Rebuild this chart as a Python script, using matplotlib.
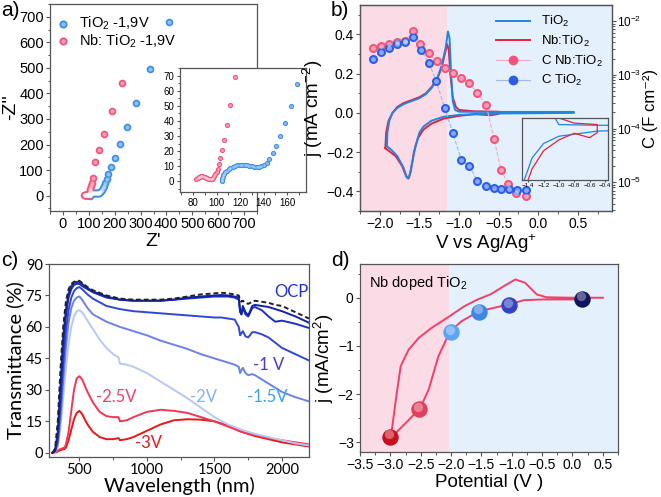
import numpy as np
import matplotlib
matplotlib.use("Agg")
import matplotlib.pyplot as plt
from matplotlib.ticker import MultipleLocator, LogLocator, NullFormatter

plt.rcParams['font.family'] = ['Liberation Sans', 'DejaVu Sans']
plt.rcParams['mathtext.fontset'] = 'custom'
plt.rcParams['mathtext.rm'] = 'Liberation Sans'
plt.rcParams['mathtext.it'] = 'Liberation Sans:italic'

# ---------------- data: panel a (Nyquist) ----------------
tio2_zre = [104.5, 104.6, 104.9, 105.3, 105.9, 106.7, 107.6, 108.8, 110.2, 111.8, 113.6, 115.5,
            117.5, 119.6, 121.7, 123.8, 125.9, 128, 130, 132, 134, 136, 138, 140, 142.5, 144.8,
            147.6, 150.4, 153.8, 158, 163, 168.5, 175, 187, 200, 221, 248, 282, 337, 410]
tio2_zim = [0, 1, 2, 3, 4, 5, 6, 7, 8, 9, 9.8, 10.4, 10.8, 11, 11.1, 11, 10.7, 10.3, 9.9, 9.6,
            9.5, 9.6, 10.2, 10.7, 12.4, 15.1, 18.9, 23.3, 29.8, 38.8, 50, 64.7, 84, 113, 149,
            201, 268, 363, 494, 681]
nb_zre = [83, 84, 85, 86, 87, 88, 89, 90, 91, 92, 93, 94, 95, 96, 97, 98, 99, 100, 101, 102,
          103, 104.5, 106.4, 108.7, 111.5, 115.8, 125, 138, 159, 190, 228]
nb_zim = [1.5, 2.2, 2.8, 3.2, 3.4, 3.4, 3.2, 2.9, 2.5, 2.1, 1.8, 1.6, 1.5, 1.7, 2.2, 3.3, 4.8,
          6.3, 8.4, 11.5, 15.8, 20.7, 27.3, 37.3, 50.7, 68.9, 130, 178, 243, 331, 441]
legend_a = ['TiO$_2$ -1,9V', 'Nb: TiO$_2$ -1,9V']

# ---------------- data: panel b (CV + capacitance) ----------------
cv_tio2_v = [-1.91, -1.905, -1.88, -1.84, -1.78, -1.70, -1.60, -1.50, -1.42, -1.35, -1.28, -1.22,
             -1.17, -1.14, -1.12, -1.10, -1.08, -1.05, -1.00, -0.50, 0.45,
             0.45, -0.50, -1.00, -1.20, -1.35, -1.45, -1.50, -1.55, -1.60, -1.63, -1.66, -1.70,
             -1.78, -1.85, -1.91]
cv_tio2_j = [-0.17, -0.10, -0.04, 0.00, 0.025, 0.045, 0.06, 0.075, 0.095, 0.125, 0.17, 0.24,
             0.33, 0.415, 0.38, 0.20, 0.06, 0.015, 0.006, 0.005, 0.005,
             0.0, -0.003, -0.010, -0.020, -0.040, -0.070, -0.100, -0.170, -0.270, -0.330,
             -0.330, -0.280, -0.220, -0.190, -0.170]
cv_nb_v = [-1.93, -1.92, -1.89, -1.84, -1.78, -1.70, -1.60, -1.50, -1.42, -1.35, -1.28, -1.22,
           -1.18, -1.15, -1.13, -1.11, -1.08, -1.04, -1.00, -0.80, -0.50,
           -0.50, -0.60, -0.80, -1.00, -1.20, -1.35, -1.45, -1.52, -1.57, -1.61, -1.64, -1.67,
           -1.72, -1.80, -1.93]
cv_nb_j = [-0.18, -0.10, -0.04, 0.00, 0.03, 0.05, 0.065, 0.08, 0.10, 0.13, 0.17, 0.23, 0.30,
           0.35, 0.32, 0.20, 0.08, 0.03, 0.015, 0.008, 0.006,
           -0.005, -0.012, -0.006, -0.015, -0.030, -0.055, -0.085, -0.130, -0.200, -0.300,
           -0.335, -0.320, -0.270, -0.220, -0.180]
c_v_nb = [-2.09, -1.99, -1.885, -1.78, -1.68, -1.58, -1.49, -1.38, -1.28, -1.18, -1.08, -0.97,
          -0.87, -0.77, -0.66, -0.56, -0.47, -0.38, -0.28, -0.16]
c_nb = [3.2e-3, 3.4e-3, 3.8e-3, 4.1e-3, 4.3e-3, 6.6e-3, 3.8e-3, 2.5e-3, 1.8e-3, 1.35e-3,
        1.1e-3, 8.7e-4, 6.9e-4, 4.6e-4, 2.8e-4, 6.5e-5, 1.7e-5, 9.3e-6, 6.3e-6, 5.6e-6]
c_v_ti = [-2.09, -1.99, -1.885, -1.78, -1.68, -1.58, -1.48, -1.38, -1.29, -1.18, -1.08, -0.97,
          -0.87, -0.77, -0.66, -0.56, -0.47, -0.37, -0.27, -0.16]
c_ti = [2.0e-3, 2.7e-3, 3.2e-3, 3.8e-3, 4.0e-3, 5.0e-3, 2.9e-3, 1.66e-3, 7.8e-4, 2.4e-4,
        8.3e-5, 2.6e-5, 2.0e-5, 1.07e-5, 8.5e-6, 7.9e-6, 7.6e-6, 7.6e-6, 7.2e-6, 7.2e-6]

# ---------------- data: panel c (transmittance) ----------------
wl_b = [300, 320, 340, 360, 380, 400, 420, 440, 460, 480, 500, 520, 560, 600, 700, 800, 900,
        1000, 1100, 1200, 1300, 1400, 1500, 1550, 1600, 1650, 1680, 1690, 1700, 1710, 1730,
        1750, 1780, 1800, 1850, 1900, 1950, 2000, 2100, 2200]
t_ocp = [0, 2, 15, 40, 60, 72, 78, 80.5, 81.5, 82, 82, 81, 79, 77.5, 75, 73.5, 73, 73, 73,
         73.5, 74.5, 75.5, 76, 76.3, 76, 75.5, 75, 73, 72, 72.5, 71.5, 71, 72, 72.5, 72, 71.5,
         70.5, 70, 67, 64]
t_0v = [0, 1, 10, 32, 55, 68, 76, 79.5, 81, 81.5, 81.5, 80.5, 78.5, 77, 74.5, 73, 72.5, 72.5,
        72.5, 73, 74, 74.5, 75, 75.2, 75, 74.5, 74, 68, 66, 70, 67, 65.5, 70, 70.5, 70, 69.5,
        68.5, 67.5, 65, 62]
t_05v = [0, 1, 8, 28, 50, 65, 74, 78, 80, 80.5, 80.5, 79.5, 78, 76.5, 74, 73, 72.5, 72.5,
         72.5, 73, 73.5, 74, 74.5, 74.5, 74.5, 74, 73, 67, 66, 69, 66, 65, 69, 69.5, 68, 65,
         62.5, 63, 61.5, 59.5]
t_1v = [0, 1, 6, 22, 42, 58, 68, 74, 77, 78.5, 79, 78, 75.5, 73.5, 70, 68.5, 67.5, 67, 66.5,
        66, 65.5, 65, 64.5, 64.5, 64, 63.5, 60, 56, 57, 58, 55.5, 55, 57.5, 57.5, 56.5, 55,
        52.5, 50, 47, 44]
t_15v = [0, 0.5, 4, 16, 34, 50, 62, 69, 72.5, 74, 74.5, 73, 69, 66, 62.5, 60, 58, 56, 53.5,
         51.5, 49.5, 47, 45, 44, 43, 42, 41, 38, 39.5, 40.5, 38, 37, 37.5, 37, 35, 33, 31, 29,
         26.5, 24.5]
wl_2v = [300, 320, 340, 360, 380, 400, 420, 440, 460, 480, 500, 520, 560, 600, 650, 700, 750,
         790, 800, 850, 900, 1000, 1100, 1200, 1300, 1400, 1500, 1600, 1700, 1800, 1900, 2000,
         2100, 2200]
t_2v = [0, 0.5, 3, 12, 26, 40, 52, 60, 65, 67.5, 68, 67, 63, 59, 54, 50, 47, 45.5, 42.5, 42,
        41, 38, 34, 30, 26, 21.5, 17, 13.5, 11, 9, 7.5, 6, 4.5, 3.5]
wl_r = [300, 330, 350, 370, 390, 400, 420, 440, 460, 480, 500, 520, 540, 560, 600, 650, 700,
        750, 790, 800, 850, 900, 1000, 1100, 1200, 1300, 1400, 1500, 1600, 1700, 1800, 1900,
        2000, 2100, 2200]
t_25v = [0, 0.5, 1.5, 2, 2.5, 4, 10, 20, 30, 35.5, 36.5, 35, 32, 29, 24, 19.5, 17.5, 17, 17,
         15, 15.5, 17, 19.5, 20.5, 20, 19, 17, 15, 12.5, 10, 8.5, 7, 6, 5, 4]
t_3v = [0, 0.3, 1, 1.5, 1.8, 2.5, 6, 11, 16, 19, 20, 18.5, 16, 13.5, 10, 7.5, 6.5, 6.5, 7, 6,
        6.5, 7.5, 10.5, 13.5, 15.5, 16, 15.8, 15, 13, 10, 8, 6.5, 5, 4, 3]

# ---------------- data: panel d ----------------
d_v = [0.50, 0.0, -0.43, -0.59, -0.78, -0.94, -1.13, -1.35, -1.56, -1.78, -2.02, -2.32, -2.53,
       -2.70, -2.83, -2.91, -2.99,
       -2.97, -2.70, -2.51, -2.37, -2.21, -2.02, -1.83, -1.54, -1.40, -1.05, -0.80, -0.48, 0.17]
d_j = [0.0, 0.0, 0.01, 0.07, 0.31, 0.38, 0.24, 0.07, -0.035, -0.175, -0.38, -0.625, -0.83,
       -1.08, -1.42, -2.12, -2.88,
       -2.88, -2.54, -2.29, -1.91, -1.22, -0.70, -0.49, -0.28, -0.24, -0.14, -0.05, -0.035, -0.035]
sph_v = [-3.0, -2.52, -2.005, -1.535, -1.04, 0.16]
sph_j = [-2.88, -2.31, -0.71, -0.29, -0.15, -0.02]
sph_col = ['#c8101c', '#e0405c', '#5aa4f2', '#3c86e4', '#3442c4', '#12145e']

PINK = '#fbdbe6'
LBLUE = '#e4f0fb'
W, H = 661, 497
fig = plt.figure(figsize=(W / 100, H / 100), dpi=100)


def rect(l, t, r, b):
    return [l / W, 1 - b / H, (r - l) / W, (b - t) / H]


def style(ax, fs=10):
    for s in ax.spines.values():
        s.set_color('#555555')
        s.set_linewidth(0.9)
    ax.tick_params(direction='out', length=3, width=0.8, color='#555555', labelsize=fs, pad=1.5)
    ax.tick_params(which='minor', direction='out', length=1.8, width=0.7, color='#555555')


def spheres(ax, x, y, color, s, zorder=3, **kw):
    ax.scatter(x, y, s=s, c=color, zorder=zorder, linewidths=0, **kw)
    ax.scatter(x, y, s=s * 0.3, c='white', alpha=0.45, zorder=zorder + 0.1, linewidths=0,
               **kw)


# ---------------- panel a ----------------
axa = fig.add_axes(rect(50, 4, 257, 211))
style(axa, 10.5)
ca, cp = '#3a8ee8', '#f0547c'
spheres(axa, tio2_zre, tio2_zim, ca, 30)
spheres(axa, nb_zre, nb_zim, cp, 30)
axa.set_xlim(-50, 750)
axa.set_ylim(-60, 750)
axa.xaxis.set_major_locator(MultipleLocator(100))
axa.xaxis.set_minor_locator(MultipleLocator(50))
axa.yaxis.set_major_locator(MultipleLocator(100))
axa.yaxis.set_minor_locator(MultipleLocator(50))
axa.set_xlabel("Z'", fontsize=14, labelpad=1)
axa.set_ylabel("-Z''", fontsize=14, labelpad=0)
for yy, col, lab in zip([0.905, 0.82], [ca, cp], legend_a):
    spheres(axa, [0.065], [yy], col, 34, zorder=6, transform=axa.transAxes)
    axa.text(0.14, yy, lab, transform=axa.transAxes, fontsize=10.5, ha='left', va='center')

axi = fig.add_axes(rect(180, 68, 306, 192))
style(axi, 7)
spheres(axi, tio2_zre, tio2_zim, ca, 14)
spheres(axi, nb_zre, nb_zim, cp, 14)
axi.set_xlim(69, 176)
axi.set_ylim(-7, 75)
axi.xaxis.set_major_locator(MultipleLocator(20))
axi.xaxis.set_minor_locator(MultipleLocator(10))
axi.yaxis.set_major_locator(MultipleLocator(10))
axi.yaxis.set_minor_locator(MultipleLocator(5))
axi.tick_params(length=2.5, pad=1.5)

# ---------------- panel b ----------------
axb = fig.add_axes(rect(360, 5, 612, 211))
style(axb, 10)
axb.axvspan(-2.25, -1.15, color=PINK, lw=0, zorder=0)
axb.axvspan(-1.15, 0.93, color=LBLUE, lw=0, zorder=0)
cb, cr = '#2384e0', '#e8203c'
axb.plot(cv_tio2_v, cv_tio2_j, color=cb, lw=1.4, label='TiO$_2$', zorder=4)
axb.plot(cv_nb_v, cv_nb_j, color=cr, lw=1.4, label='Nb:TiO$_2$', zorder=3)
axb.set_xlim(-2.25, 0.93)
axb.set_ylim(-0.5, 0.55)
axb.xaxis.set_major_locator(MultipleLocator(0.5))
axb.xaxis.set_minor_locator(MultipleLocator(0.25))
axb.yaxis.set_major_locator(MultipleLocator(0.2))
axb.yaxis.set_minor_locator(MultipleLocator(0.1))
axb.set_xlabel('V vs Ag/Ag$^{+}$', fontsize=13.5, labelpad=1)
axb.set_ylabel('j (mA cm$^{-2}$)', fontsize=13.5, labelpad=1)

axb2 = axb.twinx()
style(axb2, 8.5)
cpk, cbl = '#f2557c', '#2a5ee6'
axb2.plot(c_v_nb, c_nb, color='#f7a9bd', lw=0.8, ls='--', zorder=1)
axb2.plot(c_v_ti, c_ti, color='#9fb8ee', lw=0.8, ls='--', zorder=1)
spheres(axb2, c_v_nb, c_nb, cpk, 42, zorder=5)
spheres(axb2, c_v_ti, c_ti, cbl, 42, zorder=5)
axb2.set_yscale('log')
axb2.set_ylim(10 ** -5.535, 10 ** -1.70)
axb2.yaxis.set_major_locator(LogLocator(base=10, numticks=10))
axb2.yaxis.set_minor_locator(LogLocator(base=10, subs=np.arange(2, 10), numticks=10))
axb2.yaxis.set_minor_formatter(NullFormatter())
axb2.tick_params(axis='y', pad=0.8)
fig.text(651 / W, 1 - 108 / H, 'C (F cm\u207b\u00b2)', fontsize=12, rotation=90,
         ha='center', va='center')
axb2.plot([], [], color='#f7a9bd', lw=0.8, marker='o', ms=6, mfc=cpk, mec=cpk,
          label='C Nb:TiO$_2$')
axb2.plot([], [], color='#9fb8ee', lw=0.8, marker='o', ms=6, mfc=cbl, mec=cbl,
          label='C TiO$_2$')
h1, l1 = axb.get_legend_handles_labels()
h2, l2 = axb2.get_legend_handles_labels()
axb2.legend(h1 + h2, l1 + l2, loc='upper right', frameon=False, fontsize=9.5,
            handlelength=2.6, labelspacing=0.35, borderaxespad=0.3)

axbi = fig.add_axes(rect(522, 118, 608, 180))
style(axbi, 4.5)
axbi.set_facecolor(LBLUE)
axbi.plot(cv_tio2_v, cv_tio2_j, color=cb, lw=0.9)
axbi.plot(cv_nb_v, cv_nb_j, color=cr, lw=0.9)
axbi.set_xlim(-1.48, -0.36)
axbi.set_ylim(-0.07, 0.015)
axbi.xaxis.set_major_locator(MultipleLocator(0.2))
axbi.set_yticks([])
axbi.tick_params(length=1.5, pad=1)

# ---------------- panel c ----------------
lato = ['Lato', 'DejaVu Sans']
axc = fig.add_axes(rect(49, 264, 309, 457))
style(axc, 10.5)
axc.plot(wl_r, t_3v, color='#e81818', lw=1.4)
axc.plot(wl_r, t_25v, color='#f23656', lw=1.4)
axc.plot(wl_2v, t_2v, color='#b9c8f2', lw=1.4)
axc.plot(wl_b, t_15v, color='#6d82e2', lw=1.4)
axc.plot(wl_b, t_1v, color='#3048d2', lw=1.4)
axc.plot(wl_b, t_05v, color='#1c30c4', lw=1.4)
axc.plot(wl_b, t_0v, color='#1222a4', lw=1.4)
axc.plot(wl_b, t_ocp, color='#222222', lw=1.4, ls=(0, (2.5, 1.5)))
axc.set_xlim(275, 2200)
axc.set_ylim(-2, 90)
axc.xaxis.set_major_locator(MultipleLocator(500))
axc.xaxis.set_minor_locator(MultipleLocator(250))
axc.yaxis.set_major_locator(MultipleLocator(15))
for lab in axc.get_xticklabels() + axc.get_yticklabels():
    lab.set_family(lato)
axc.set_xlabel('Wavelength (nm)', fontsize=14.5, labelpad=0, family=lato)
axc.set_ylabel('Transmittance (%)', fontsize=14.5, labelpad=1, family=lato)
ckw = dict(fontsize=12, family=lato, ha='center', va='center')
axc.text(2070, 76.5, 'OCP', color='#2233cc', **ckw)
axc.text(1900, 41.7, '-1 V', color='#4a3cc0', **ckw)
axc.text(1890, 26.4, '-1.5V', color='#3aa2f0', **ckw)
axc.text(1420, 26.4, '-2V', color='#86b2f0', **ckw)
axc.text(770, 26.4, '-2.5V', color='#f0406e', **ckw)
axc.text(1010, 4.9, '-3V', color='#e01c1c', **ckw)

# ---------------- panel d ----------------
axd = fig.add_axes(rect(360, 264, 618, 452))
style(axd, 10)
axd.axvspan(-3.5, -2.03, color=PINK, lw=0, zorder=0)
axd.axvspan(-2.03, 0.75, color=LBLUE, lw=0, zorder=0)
axd.plot(d_v, d_j, color='#f0406a', lw=1.4, zorder=2)
for v, j, c in zip(sph_v, sph_j, sph_col):
    axd.scatter([v], [j], s=140, c=c, zorder=3, linewidths=0)
    axd.scatter([v - 0.02], [j + 0.05], s=45, c='white', alpha=0.35, zorder=4, linewidths=0)
axd.set_xlim(-3.5, 0.75)
axd.set_ylim(-3.2, 0.7)
axd.xaxis.set_major_locator(MultipleLocator(0.5))
axd.xaxis.set_minor_locator(MultipleLocator(0.25))
axd.yaxis.set_major_locator(MultipleLocator(1))
axd.yaxis.set_minor_locator(MultipleLocator(0.5))
axd.set_xlabel('Potential (V )', fontsize=13.5, labelpad=1)
axd.set_ylabel('j (mA/cm$^{2}$)', fontsize=13.5, labelpad=1)
axd.text(-3.35, 0.3, 'Nb doped TiO$_2$', fontsize=10.5, ha='left', va='center')

# ---------------- panel letters ----------------
for x, y, t in [(1, 1, 'a)'), (331, 1, 'b)'), (1, 251, 'c)'), (331, 251, 'd)')]:
    fig.text(x / W, 1 - y / H, t, fontsize=15, ha='left', va='top')

fig.savefig('out.png', dpi=100)
